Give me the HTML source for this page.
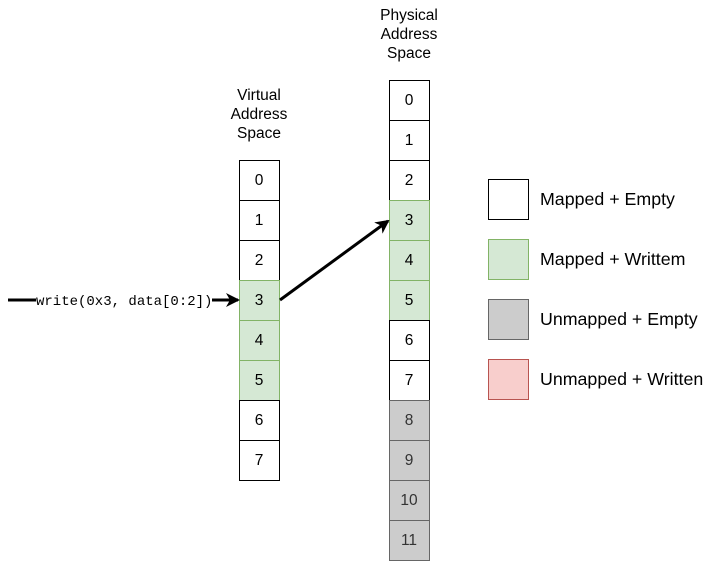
<!DOCTYPE html>
<html><head><meta charset="utf-8"><style>
body{margin:0;background:#fff;}
svg text{font-family:"Liberation Sans",sans-serif;font-size:15.5px;fill:#000;}
</style></head><body>
<svg id="s" width="719" height="561" xmlns="http://www.w3.org/2000/svg">
<defs><marker id="ah" markerWidth="14" markerHeight="14" refX="12" refY="7" orient="auto" markerUnits="userSpaceOnUse"><path d="M0,0 L14,7 L0,14 L4,7 Z" fill="#000"/></marker></defs>
<g>
<text x="259" y="100" text-anchor="middle">Virtual</text>
<text x="259" y="119" text-anchor="middle">Address</text>
<text x="259" y="138" text-anchor="middle">Space</text></g>
<g>
<text x="409" y="20" text-anchor="middle">Physical</text>
<text x="409" y="39" text-anchor="middle">Address</text>
<text x="409" y="58" text-anchor="middle">Space</text></g>
<g id="virt"></g>
<g id="phys"></g>
<g id="leg"></g>
<line x1="8" y1="300" x2="36" y2="300" stroke="#000" stroke-width="3"/>
<text x="36" y="305" style="font-family:'Liberation Mono',monospace;font-size:14px">write(0x3, data[0:2])</text>
<line x1="212" y1="300" x2="238" y2="300" stroke="#000" stroke-width="3" marker-end="url(#ah)"/>
<line x1="280" y1="300" x2="388" y2="221" stroke="#000" stroke-width="3" marker-end="url(#ah)"/>
</svg>
<script>
const virtStates=['e','e','e','w','w','w','e','e'];
const physStates=['e','e','e','w','w','w','e','e','g','g','g','g'];
const legendLabels=['Mapped + Empty','Mapped + Writtem','Unmapped + Empty','Unmapped + Written'];
const legendStates=['e','w','g','r'];
const sty={e:['#fff','#000','#000'],w:['#d5e8d4','#82b366','#000'],g:['#cccccc','#666','#333'],r:['#f8cecc','#b85450','#000']};
const NS='http://www.w3.org/2000/svg';
function col(g,x,y0,states,nm){
 states.forEach((s,i)=>{
  const y=y0+i*40;
  const r=document.createElementNS(NS,'rect');
  r.setAttribute('x',x+0.5);r.setAttribute('y',y+0.5);r.setAttribute('width',40);r.setAttribute('height',40);
  r.setAttribute('fill',sty[s][0]);r.setAttribute('stroke',sty[s][1]);
  
  
  g.appendChild(r);
  const t=document.createElementNS(NS,'text');
  t.setAttribute('x',x+20);t.setAttribute('y',y+25);t.setAttribute('text-anchor','middle');
  t.style.fill=sty[s][2];t.textContent=i;
  
  
  g.appendChild(t);
 });
}
col(document.getElementById('virt'),239,160,virtStates,'virtual');
col(document.getElementById('phys'),389,80,physStates,'physical');
const lg=document.getElementById('leg');
legendLabels.forEach((l,i)=>{
 const y=179+i*60,s=legendStates[i];
 const r=document.createElementNS(NS,'rect');
 r.setAttribute('x',488.5);r.setAttribute('y',y+0.5);r.setAttribute('width',40);r.setAttribute('height',40);
 r.setAttribute('fill',sty[s][0]);r.setAttribute('stroke',sty[s][1]);
 
 
 lg.appendChild(r);
 const t=document.createElementNS(NS,'text');
 t.setAttribute('x',540);t.setAttribute('y',y+26);t.style.fontSize='17.8px';t.textContent=l;
 
 
 lg.appendChild(t);
});
</script>
</body></html>
